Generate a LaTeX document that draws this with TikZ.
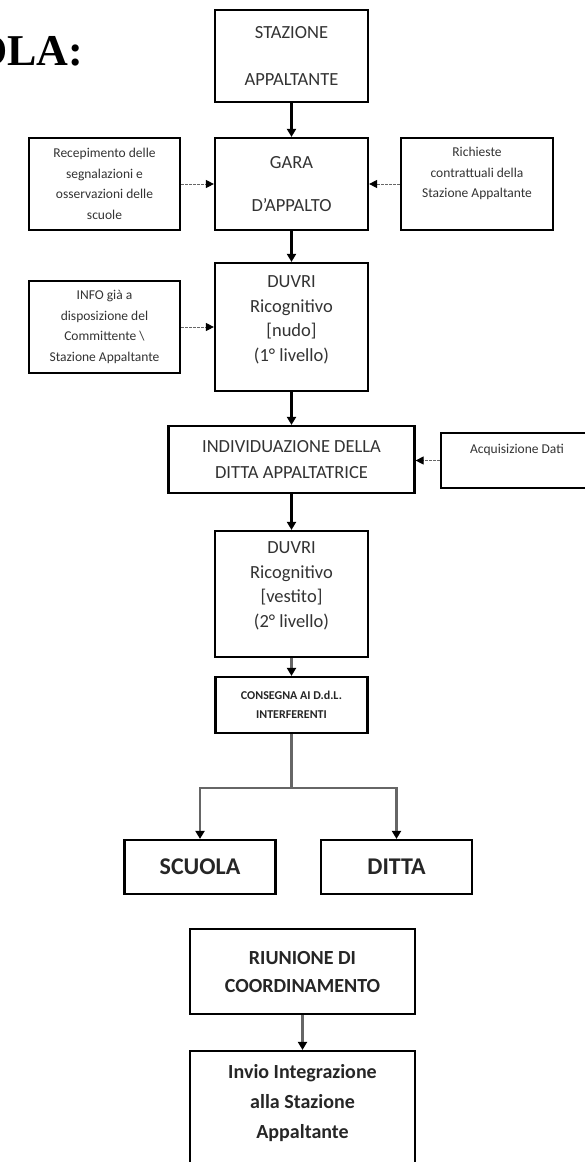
\documentclass[tikz,border=0pt]{standalone}
\usepackage{fontspec}
\setmainfont{Carlito}
\newfontfamily\titlefont{Liberation Serif}
\usetikzlibrary{arrows.meta}

\definecolor{testo}{HTML}{333333}
\definecolor{grigio}{HTML}{666666}

\tikzset{
  blocco/.style={draw, line width=2.2pt, text=testo, align=center, inner sep=0pt,
    minimum width=153pt, font=\fontsize{18.5}{24.5}\selectfont},
  nota/.style={draw, line width=2.2pt, text=testo, align=center, inner sep=0pt,
    minimum width=151pt, minimum height=92pt, font=\fontsize{13.5}{20.5}\selectfont},
  grassetto/.style={draw, line width=2.2pt, text=black!85, align=center, inner sep=0pt,
    font=\bfseries\fontsize{20}{29}\selectfont},
  freccia/.style={->, line width=2.2pt},
  fgrigia/.style={-{Triangle[length=8pt,width=9pt,color=black]}, draw=grigio, line width=2.2pt},
  tratto/.style={-{Triangle[length=8pt,width=8pt,color=black]}, draw=grigio, line width=1pt,
    dash pattern=on 2.5pt off 1.5pt}
}

\begin{document}
\begin{tikzpicture}[x=1pt,y=-1pt,>={Triangle[length=8pt,width=9pt]}]

\useasboundingbox (0,0) rectangle (585,1162);
\fill[white] (0,0) rectangle (585,1162);

\node[inner sep=0pt, anchor=base west, font=\titlefont\bfseries\fontsize{44}{44}\selectfont] (titolo) at (-27,65) {OLA:};

\node[blocco, minimum height=92pt] (stazione) at (291.5,56) {STAZIONE\\[22pt]APPALTANTE};
\node[blocco, minimum height=92pt] (gara) at (291.5,184) {GARA\\[19pt]D’APPALTO};
\node[nota] (recepimento) at (104.5,184) {Recepimento delle\\segnalazioni e\\osservazioni delle\\scuole};
\node[nota, minimum width=152pt, text depth=23pt] (richieste) at (477,184) {Richieste\\contrattuali della\\Stazione Appaltante};

\node[blocco, minimum height=128pt, text depth=16.5pt] (duvrinudo) at (291.5,327) {DUVRI\\Ricognitivo\\{[}nudo{]}\\(1° livello)};
\node[nota] (info) at (104.5,327) {INFO già a\\disposizione del\\Committente \textbackslash\\Stazione Appaltante};

\node[blocco, minimum width=246pt, minimum height=67pt, font=\fontsize{18.5}{26}\selectfont] (ditta1) at (291.5,459.5) {INDIVIDUAZIONE DELLA\\DITTA APPALTATRICE};
\node[nota, minimum width=152pt, minimum height=55pt, text depth=23pt] (acquisizione) at (517,460.5) {Acquisizione Dati};

\node[blocco, minimum height=126pt, text depth=18.5pt] (duvrivestito) at (291.5,594) {DUVRI\\Ricognitivo\\{[}vestito{]}\\(2° livello)};
\node[grassetto, minimum width=152pt, minimum height=56pt, font=\bfseries\fontsize{12}{19}\selectfont] (consegna) at (291.5,705) {CONSEGNA AI D.d.L.\\INTERFERENTI};
\coordinate (bivio) at (291.5,788);

\node[grassetto, minimum width=151pt, minimum height=54pt, font=\bfseries\fontsize{24}{24}\selectfont] (scuola) at (200,867) {SCUOLA};
\node[grassetto, minimum width=151pt, minimum height=54pt, font=\bfseries\fontsize{24}{24}\selectfont] (ditta) at (396.5,867) {DITTA};

\node[grassetto, minimum width=225pt, minimum height=85pt, font=\bfseries\fontsize{20}{28}\selectfont] (riunione) at (302.5,971.5) {RIUNIONE DI\\COORDINAMENTO};
\node[grassetto, minimum width=225pt, minimum height=119pt, text depth=19pt, font=\bfseries\fontsize{20}{30}\selectfont] (invio) at (302.5,1110.5) {Invio Integrazione\\alla Stazione\\Appaltante};

\draw[freccia] (stazione) -- (gara);
\draw[freccia] (gara) -- (duvrinudo);
\draw[freccia] (duvrinudo) -- (ditta1);
\draw[freccia] (ditta1) -- (duvrivestito);
\draw[tratto] (recepimento) -- (gara);
\draw[tratto] (richieste) -- (gara);
\draw[tratto] (info) -- (duvrinudo);
\draw[tratto] (acquisizione.west) -- (acquisizione.west -| ditta1.east);

\draw[fgrigia] (duvrivestito) -- (consegna);
\draw[grigio, line width=2.2pt] (consegna) -- (bivio);
\draw[fgrigia] (bivio) -| (scuola);
\draw[fgrigia] (bivio) -| (ditta);
\draw[fgrigia] (riunione) -- (invio);

\end{tikzpicture}
\end{document}
